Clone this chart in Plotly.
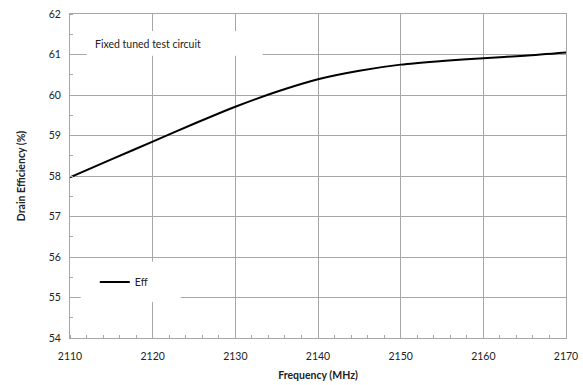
import plotly.graph_objects as go

freq = [2110, 2115, 2120, 2125, 2130, 2135, 2140, 2145, 2150, 2155, 2160, 2165, 2170]
eff = [57.97, 58.41, 58.85, 59.29, 59.71, 60.08, 60.39, 60.60, 60.75, 60.84, 60.91, 60.97, 61.05]
x_ticks = [2110, 2120, 2130, 2140, 2150, 2160, 2170]
y_ticks = [54, 55, 56, 57, 58, 59, 60, 61, 62]

FONT = "Lato, 'Open Sans', sans-serif"
GRID = "#a6a6a6"
FS = 10.5

fig = go.Figure()
fig.add_trace(go.Scatter(x=freq, y=eff, mode="lines", name="Eff",
                         line=dict(color="black", width=2, shape="spline", smoothing=0.8)))

# white boxes behind text / legend (cover gridlines)
fig.add_shape(type="rect", xref="x", yref="y", x0=2112.0, x1=2133.3, y0=60.97, y1=61.58,
              fillcolor="white", line=dict(width=0), layer="above")
fig.add_shape(type="rect", xref="x", yref="y", x0=2111.3, x1=2123.4, y0=54.89, y1=55.88,
              fillcolor="white", line=dict(width=0), layer="above")

fig.add_annotation(x=2112.8, y=61.27, xref="x", yref="y", text="Fixed tuned test circuit",
                   showarrow=False, xanchor="left", yanchor="middle",
                   font=dict(family=FONT, size=FS, color="#222"))

fig.update_layout(
    width=583, height=385,
    margin=dict(l=69.5, r=17, t=14, b=47),
    paper_bgcolor="white", plot_bgcolor="white",
    font=dict(family=FONT, size=FS, color="#222"),
    showlegend=True,
    legend=dict(x=0.05, y=0.173, xanchor="left", yanchor="middle",
                bgcolor="rgba(0,0,0,0)", font=dict(family=FONT, size=FS, color="#222"),
                itemwidth=30),
    xaxis=dict(range=[2110, 2170], tickvals=x_ticks, ticktext=[str(v) for v in x_ticks],
               automargin=False,
               showgrid=True, gridcolor=GRID, gridwidth=1,
               showline=True, linecolor=GRID, linewidth=1, mirror=True,
               ticks="", ticklabelstandoff=8, zeroline=False,
               minor=dict(dtick=2, ticks="inside", ticklen=3, tickcolor=GRID, showgrid=False),
               title=dict(text="<b>Frequency (MHz)</b>", font=dict(family=FONT, size=FS, color="#222"),
                          standoff=11)),
    yaxis=dict(range=[54, 62], tickvals=y_ticks, ticktext=[str(v) for v in y_ticks],
               automargin=False,
               showgrid=True, gridcolor=GRID, gridwidth=1,
               showline=True, linecolor=GRID, linewidth=1, mirror=True,
               ticks="", ticklabelstandoff=6, zeroline=False,
               minor=dict(dtick=0.5, ticks="inside", ticklen=3, tickcolor=GRID, showgrid=False),
               title=dict(text="<b>Drain Efficiency (%)</b>", font=dict(family=FONT, size=FS, color="#222"),
                          standoff=21)),
)

fig.write_html("out.html")
